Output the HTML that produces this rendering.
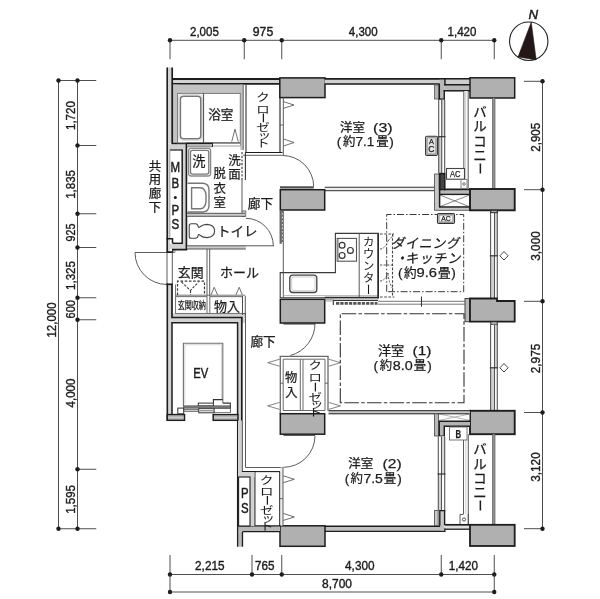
<!DOCTYPE html>
<html lang="ja"><head><meta charset="utf-8"><title>間取り図</title>
<style>
html,body{margin:0;padding:0;background:#fff;}
body{width:600px;height:599px;overflow:hidden;font-family:"Liberation Sans","Noto Sans CJK JP",sans-serif;}
svg{display:block;will-change:transform;}
svg text{font-family:"Liberation Sans","Noto Sans CJK JP",sans-serif;}
</style></head><body>
<svg width="600" height="599" viewBox="0 0 600 599">
<rect x="0" y="0" width="600" height="599" fill="#fff"/>
<g id="dims">
<line x1="170" y1="40.3" x2="494.25" y2="40.3" stroke="#3a3a3a" stroke-width="0.9"/>
<line x1="170" y1="40.3" x2="170" y2="59.2" stroke="#3a3a3a" stroke-width="0.9"/>
<circle cx="170" cy="40.3" r="2.2" fill="#1d1d1d" stroke="none" stroke-width="1"/>
<line x1="244.25" y1="40.3" x2="244.25" y2="59.2" stroke="#3a3a3a" stroke-width="0.9"/>
<circle cx="244.25" cy="40.3" r="2.2" fill="#1d1d1d" stroke="none" stroke-width="1"/>
<line x1="281.75" y1="40.3" x2="281.75" y2="59.2" stroke="#3a3a3a" stroke-width="0.9"/>
<circle cx="281.75" cy="40.3" r="2.2" fill="#1d1d1d" stroke="none" stroke-width="1"/>
<line x1="441.25" y1="40.3" x2="441.25" y2="59.2" stroke="#3a3a3a" stroke-width="0.9"/>
<circle cx="441.25" cy="40.3" r="2.2" fill="#1d1d1d" stroke="none" stroke-width="1"/>
<line x1="494.25" y1="40.3" x2="494.25" y2="59.2" stroke="#3a3a3a" stroke-width="0.9"/>
<circle cx="494.25" cy="40.3" r="2.2" fill="#1d1d1d" stroke="none" stroke-width="1"/>
<line x1="170" y1="574.5" x2="494.25" y2="574.5" stroke="#3a3a3a" stroke-width="0.9"/>
<line x1="170" y1="592" x2="494.25" y2="592" stroke="#3a3a3a" stroke-width="0.9"/>
<line x1="170" y1="555" x2="170" y2="574.5" stroke="#3a3a3a" stroke-width="0.9"/>
<circle cx="170" cy="574.5" r="2.2" fill="#1d1d1d" stroke="none" stroke-width="1"/>
<line x1="252" y1="555" x2="252" y2="574.5" stroke="#3a3a3a" stroke-width="0.9"/>
<circle cx="252" cy="574.5" r="2.2" fill="#1d1d1d" stroke="none" stroke-width="1"/>
<line x1="281.75" y1="555" x2="281.75" y2="574.5" stroke="#3a3a3a" stroke-width="0.9"/>
<circle cx="281.75" cy="574.5" r="2.2" fill="#1d1d1d" stroke="none" stroke-width="1"/>
<line x1="441.25" y1="555" x2="441.25" y2="574.5" stroke="#3a3a3a" stroke-width="0.9"/>
<circle cx="441.25" cy="574.5" r="2.2" fill="#1d1d1d" stroke="none" stroke-width="1"/>
<line x1="494.25" y1="555" x2="494.25" y2="574.5" stroke="#3a3a3a" stroke-width="0.9"/>
<circle cx="494.25" cy="574.5" r="2.2" fill="#1d1d1d" stroke="none" stroke-width="1"/>
<line x1="170" y1="574.5" x2="170" y2="592" stroke="#3a3a3a" stroke-width="0.9"/>
<line x1="494.25" y1="574.5" x2="494.25" y2="592" stroke="#3a3a3a" stroke-width="0.9"/>
<circle cx="170" cy="592" r="2.2" fill="#1d1d1d" stroke="none" stroke-width="1"/>
<circle cx="494.25" cy="592" r="2.2" fill="#1d1d1d" stroke="none" stroke-width="1"/>
<line x1="58.5" y1="80.5" x2="58.5" y2="528.75" stroke="#3a3a3a" stroke-width="0.9"/>
<line x1="77.5" y1="80.5" x2="77.5" y2="528.75" stroke="#3a3a3a" stroke-width="0.9"/>
<line x1="58.5" y1="80.5" x2="96.25" y2="80.5" stroke="#3a3a3a" stroke-width="0.9"/>
<line x1="58.5" y1="528.75" x2="96.25" y2="528.75" stroke="#3a3a3a" stroke-width="0.9"/>
<line x1="77.5" y1="145.5" x2="96.25" y2="145.5" stroke="#3a3a3a" stroke-width="0.9"/>
<line x1="77.5" y1="213.75" x2="96.25" y2="213.75" stroke="#3a3a3a" stroke-width="0.9"/>
<line x1="77.5" y1="247.5" x2="96.25" y2="247.5" stroke="#3a3a3a" stroke-width="0.9"/>
<line x1="77.5" y1="297.75" x2="96.25" y2="297.75" stroke="#3a3a3a" stroke-width="0.9"/>
<line x1="77.5" y1="319.75" x2="96.25" y2="319.75" stroke="#3a3a3a" stroke-width="0.9"/>
<line x1="77.5" y1="469.25" x2="96.25" y2="469.25" stroke="#3a3a3a" stroke-width="0.9"/>
<circle cx="77.5" cy="80.5" r="2.2" fill="#1d1d1d" stroke="none" stroke-width="1"/>
<circle cx="77.5" cy="145.5" r="2.2" fill="#1d1d1d" stroke="none" stroke-width="1"/>
<circle cx="77.5" cy="213.75" r="2.2" fill="#1d1d1d" stroke="none" stroke-width="1"/>
<circle cx="77.5" cy="247.5" r="2.2" fill="#1d1d1d" stroke="none" stroke-width="1"/>
<circle cx="77.5" cy="297.75" r="2.2" fill="#1d1d1d" stroke="none" stroke-width="1"/>
<circle cx="77.5" cy="319.75" r="2.2" fill="#1d1d1d" stroke="none" stroke-width="1"/>
<circle cx="77.5" cy="469.25" r="2.2" fill="#1d1d1d" stroke="none" stroke-width="1"/>
<circle cx="77.5" cy="528.75" r="2.2" fill="#1d1d1d" stroke="none" stroke-width="1"/>
<circle cx="58.5" cy="80.5" r="2.2" fill="#1d1d1d" stroke="none" stroke-width="1"/>
<circle cx="58.5" cy="528.75" r="2.2" fill="#1d1d1d" stroke="none" stroke-width="1"/>
<line x1="542.5" y1="81.3" x2="542.5" y2="528.7" stroke="#3a3a3a" stroke-width="0.9"/>
<line x1="524" y1="81.3" x2="542.5" y2="81.3" stroke="#3a3a3a" stroke-width="0.9"/>
<circle cx="542.5" cy="81.3" r="2.2" fill="#1d1d1d" stroke="none" stroke-width="1"/>
<line x1="524" y1="189.7" x2="542.5" y2="189.7" stroke="#3a3a3a" stroke-width="0.9"/>
<circle cx="542.5" cy="189.7" r="2.2" fill="#1d1d1d" stroke="none" stroke-width="1"/>
<line x1="524" y1="301.3" x2="542.5" y2="301.3" stroke="#3a3a3a" stroke-width="0.9"/>
<circle cx="542.5" cy="301.3" r="2.2" fill="#1d1d1d" stroke="none" stroke-width="1"/>
<line x1="524" y1="412.5" x2="542.5" y2="412.5" stroke="#3a3a3a" stroke-width="0.9"/>
<circle cx="542.5" cy="412.5" r="2.2" fill="#1d1d1d" stroke="none" stroke-width="1"/>
<line x1="524" y1="528.7" x2="542.5" y2="528.7" stroke="#3a3a3a" stroke-width="0.9"/>
<circle cx="542.5" cy="528.7" r="2.2" fill="#1d1d1d" stroke="none" stroke-width="1"/>
</g>
<g id="dimtext" stroke="#1c1c1c" stroke-width="0.38">
<text x="204.4" y="36.2" font-size="12.4" text-anchor="middle" font-weight="normal" font-style="normal" fill="#1c1c1c" textLength="28.8" lengthAdjust="spacingAndGlyphs">2,005</text>
<text x="263" y="36.2" font-size="12.4" text-anchor="middle" font-weight="normal" font-style="normal" fill="#1c1c1c" textLength="20.5" lengthAdjust="spacingAndGlyphs">975</text>
<text x="363.2" y="36.2" font-size="12.4" text-anchor="middle" font-weight="normal" font-style="normal" fill="#1c1c1c" textLength="28.8" lengthAdjust="spacingAndGlyphs">4,300</text>
<text x="462" y="36.2" font-size="12.4" text-anchor="middle" font-weight="normal" font-style="normal" fill="#1c1c1c" textLength="28.8" lengthAdjust="spacingAndGlyphs">1,420</text>
<text x="209.8" y="570" font-size="12.4" text-anchor="middle" font-weight="normal" font-style="normal" fill="#1c1c1c" textLength="29.5" lengthAdjust="spacingAndGlyphs">2,215</text>
<text x="264.7" y="570" font-size="12.4" text-anchor="middle" font-weight="normal" font-style="normal" fill="#1c1c1c" textLength="19.5" lengthAdjust="spacingAndGlyphs">765</text>
<text x="359.8" y="570" font-size="12.4" text-anchor="middle" font-weight="normal" font-style="normal" fill="#1c1c1c" textLength="29.5" lengthAdjust="spacingAndGlyphs">4,300</text>
<text x="463.4" y="570" font-size="12.4" text-anchor="middle" font-weight="normal" font-style="normal" fill="#1c1c1c" textLength="29.3" lengthAdjust="spacingAndGlyphs">1,420</text>
<text x="337" y="588.3" font-size="12.4" text-anchor="middle" font-weight="normal" font-style="normal" fill="#1c1c1c" textLength="30" lengthAdjust="spacingAndGlyphs">8,700</text>
<text x="75" y="115.6" font-size="12.4" text-anchor="middle" font-weight="normal" font-style="normal" fill="#1c1c1c" textLength="28.8" lengthAdjust="spacingAndGlyphs" transform="rotate(-90 75 115.6)">1,720</text>
<text x="75" y="184.4" font-size="12.4" text-anchor="middle" font-weight="normal" font-style="normal" fill="#1c1c1c" textLength="28.8" lengthAdjust="spacingAndGlyphs" transform="rotate(-90 75 184.4)">1,835</text>
<text x="75" y="232.5" font-size="12.4" text-anchor="middle" font-weight="normal" font-style="normal" fill="#1c1c1c" textLength="17.8" lengthAdjust="spacingAndGlyphs" transform="rotate(-90 75 232.5)">925</text>
<text x="75" y="275.5" font-size="12.4" text-anchor="middle" font-weight="normal" font-style="normal" fill="#1c1c1c" textLength="28.8" lengthAdjust="spacingAndGlyphs" transform="rotate(-90 75 275.5)">1,325</text>
<text x="75" y="309.3" font-size="12.4" text-anchor="middle" font-weight="normal" font-style="normal" fill="#1c1c1c" textLength="18.3" lengthAdjust="spacingAndGlyphs" transform="rotate(-90 75 309.3)">600</text>
<text x="75" y="393" font-size="12.4" text-anchor="middle" font-weight="normal" font-style="normal" fill="#1c1c1c" textLength="28.8" lengthAdjust="spacingAndGlyphs" transform="rotate(-90 75 393)">4,000</text>
<text x="75" y="499.4" font-size="12.4" text-anchor="middle" font-weight="normal" font-style="normal" fill="#1c1c1c" textLength="28.8" lengthAdjust="spacingAndGlyphs" transform="rotate(-90 75 499.4)">1,595</text>
<text x="55.8" y="320" font-size="12.4" text-anchor="middle" font-weight="normal" font-style="normal" fill="#1c1c1c" textLength="35" lengthAdjust="spacingAndGlyphs" transform="rotate(-90 55.8 320)">12,000</text>
<text x="540" y="137.3" font-size="12.4" text-anchor="middle" font-weight="normal" font-style="normal" fill="#1c1c1c" textLength="28.8" lengthAdjust="spacingAndGlyphs" transform="rotate(-90 540 137.3)">2,905</text>
<text x="540" y="246" font-size="12.4" text-anchor="middle" font-weight="normal" font-style="normal" fill="#1c1c1c" textLength="29.5" lengthAdjust="spacingAndGlyphs" transform="rotate(-90 540 246)">3,000</text>
<text x="540" y="358.5" font-size="12.4" text-anchor="middle" font-weight="normal" font-style="normal" fill="#1c1c1c" textLength="29.5" lengthAdjust="spacingAndGlyphs" transform="rotate(-90 540 358.5)">2,975</text>
<text x="540" y="467" font-size="12.4" text-anchor="middle" font-weight="normal" font-style="normal" fill="#1c1c1c" textLength="29.3" lengthAdjust="spacingAndGlyphs" transform="rotate(-90 540 467)">3,120</text>
</g>
<circle cx="528.75" cy="41.25" r="19.2" fill="none" stroke="#222" stroke-width="1.1"/>
<path d="M531.25 22 L518 57 L536.25 60 Z" fill="#231815" stroke="#231815" stroke-width="0.5"/>
<g stroke="#1c1c1c" stroke-width="0.45">
<text x="533.2" y="18.8" font-size="12.8" text-anchor="middle" font-weight="normal" font-style="italic" fill="#1c1c1c" textLength="9.6" lengthAdjust="spacingAndGlyphs">N</text>
</g>
<g id="walls">
<rect x="167" y="67.5" width="5.5" height="76" fill="#d2d2d2" stroke="none" stroke-width="1"/>
<rect x="167" y="143.5" width="3" height="108.5" fill="#d2d2d2" stroke="none" stroke-width="1"/>
<rect x="172" y="79" width="108" height="5" fill="#d2d2d2" stroke="none" stroke-width="1"/>
<line x1="172.2" y1="79" x2="280" y2="79" stroke="#1d1d1d" stroke-width="1.9"/>
<line x1="172.2" y1="83.8" x2="280" y2="83.8" stroke="#1d1d1d" stroke-width="1.7"/>
<rect x="172.5" y="84.7" width="70.5" height="8.6" fill="#c2c2c2" stroke="none" stroke-width="1"/>
<rect x="172.5" y="84.7" width="5.3" height="58.3" fill="#c2c2c2" stroke="none" stroke-width="1"/>
<rect x="240.3" y="84.7" width="2.9" height="65.3" fill="#c2c2c2" stroke="none" stroke-width="1"/>
<rect x="168" y="144.4" width="17.6" height="5.4" fill="#d2d2d2" stroke="none" stroke-width="1"/>
<rect x="183" y="149.6" width="2.7" height="99.3" fill="#d2d2d2" stroke="none" stroke-width="1"/>
<rect x="168" y="243.8" width="17.7" height="5.1" fill="#d2d2d2" stroke="none" stroke-width="1"/>
<rect x="170" y="150" width="12.2" height="93.3" fill="#fff" stroke="none" stroke-width="1"/>
<line x1="167.2" y1="67.5" x2="167.2" y2="252.8" stroke="#1d1d1d" stroke-width="1.6"/>
<path d="M172.2 67.5 L172.2 143.5 L186.4 143.5 L186.4 249.6 L172.8 249.6 L172.8 252.2 L166.4 252.2" fill="none" stroke="#1d1d1d" stroke-width="1.7"/>
<line x1="170" y1="150" x2="182.2" y2="150" stroke="#1d1d1d" stroke-width="1.2"/>
<line x1="182.2" y1="149.5" x2="182.2" y2="243.3" stroke="#1d1d1d" stroke-width="1.5"/>
<line x1="172.5" y1="243.3" x2="182.9" y2="243.3" stroke="#1d1d1d" stroke-width="1.5"/>
<line x1="169.9" y1="150" x2="169.9" y2="238.5" stroke="#888" stroke-width="0.7"/>
<path d="M166.4 238.7 L172.5 238.7 L172.5 243.3" fill="none" stroke="#1d1d1d" stroke-width="1.5"/>
<rect x="173" y="250.5" width="2" height="2" fill="#ddd" stroke="#555" stroke-width="0.6"/>
<rect x="279.8" y="77.9" width="45.2" height="19.7" fill="#b0b0b0" stroke="#1d1d1d" stroke-width="1.5"/>
<rect x="324.5" y="79" width="114.8" height="5.3" fill="#d0d0d0" stroke="none" stroke-width="1"/>
<line x1="324.5" y1="78.9" x2="470" y2="78.9" stroke="#1d1d1d" stroke-width="1.9"/>
<line x1="324.5" y1="83.9" x2="439.8" y2="83.9" stroke="#1d1d1d" stroke-width="1.5"/>
<rect x="434.5" y="85" width="4.5" height="14" fill="#b5b5b5" stroke="#666" stroke-width="0.9"/>
<rect x="439.3" y="79.8" width="5" height="19.5" fill="#b8b8b8" stroke="none" stroke-width="1"/>
<rect x="444.3" y="85.5" width="25.7" height="5.3" fill="#b8b8b8" stroke="none" stroke-width="1"/>
<rect x="444.8" y="79.8" width="25.2" height="5" fill="#cdcdcd" stroke="none" stroke-width="1"/>
<line x1="439.3" y1="83.6" x2="439.3" y2="99.9" stroke="#1d1d1d" stroke-width="1.5"/>
<line x1="438.6" y1="99.2" x2="445" y2="99.2" stroke="#1d1d1d" stroke-width="1.5"/>
<line x1="444.3" y1="90.1" x2="444.3" y2="99.9" stroke="#1d1d1d" stroke-width="1.4"/>
<line x1="443.7" y1="90.8" x2="470" y2="90.8" stroke="#1d1d1d" stroke-width="1.5"/>
<line x1="444.9" y1="79" x2="444.9" y2="85.5" stroke="#1d1d1d" stroke-width="1.5"/>
<line x1="444.2" y1="84.8" x2="470" y2="84.8" stroke="#1d1d1d" stroke-width="1.6"/>
<rect x="470" y="77.8" width="44.7" height="20.2" fill="#b0b0b0" stroke="#1d1d1d" stroke-width="1.5"/>
<rect x="438.7" y="99.8" width="6" height="73.2" fill="#fff" stroke="none" stroke-width="1"/>
<rect x="441.7" y="99.8" width="3" height="36.9" fill="#dadada" stroke="none" stroke-width="1"/>
<rect x="438.7" y="136.7" width="3" height="36.3" fill="#d4d4d4" stroke="none" stroke-width="1"/>
<line x1="438.7" y1="99.8" x2="438.7" y2="173" stroke="#555" stroke-width="1.1"/>
<line x1="441.7" y1="99.8" x2="441.7" y2="173" stroke="#555" stroke-width="1.1"/>
<line x1="444.7" y1="99.8" x2="444.7" y2="173" stroke="#555" stroke-width="1.1"/>
<line x1="437.9" y1="136.7" x2="445.5" y2="136.7" stroke="#333" stroke-width="1.2"/>
<rect x="463.8" y="91" width="4.2" height="97" fill="#fafafa" stroke="none" stroke-width="1"/>
<line x1="463.8" y1="91" x2="463.8" y2="168.3" stroke="#4a4a4a" stroke-width="0.9"/>
<line x1="465.6" y1="91" x2="465.6" y2="188" stroke="#bbb" stroke-width="0.6"/>
<line x1="468.2" y1="91" x2="468.2" y2="188" stroke="#4a4a4a" stroke-width="0.9"/>
<rect x="492.6" y="98" width="2.3" height="90.5" fill="#9a9a9a" stroke="none" stroke-width="1"/>
<line x1="492.6" y1="98" x2="492.6" y2="188.5" stroke="#555" stroke-width="0.8"/>
<line x1="494.9" y1="98" x2="494.9" y2="188.5" stroke="#555" stroke-width="0.8"/>
<rect x="324.7" y="187.4" width="109.8" height="3.2" fill="#ededed" stroke="none" stroke-width="1"/>
<line x1="324.7" y1="187.3" x2="434.5" y2="187.3" stroke="#333" stroke-width="1.1"/>
<line x1="324.7" y1="190.6" x2="434.5" y2="190.6" stroke="#555" stroke-width="1.1"/>
<rect x="280.3" y="189.7" width="44.4" height="20.3" fill="#b0b0b0" stroke="#1d1d1d" stroke-width="1.5"/>
<line x1="280" y1="187.3" x2="313.7" y2="187.3" stroke="#505050" stroke-width="2.3"/>
<path d="M282.5 155.5 A31.2 31.2 0 0 1 313.7 186.7" fill="none" stroke="#4a4a4a" stroke-width="0.9"/>
<path d="M434.5 174 L440 174 L440 207 L469.5 207 L469.5 210.3 L434.5 210.3 Z" fill="#c6c6c6" stroke="#555" stroke-width="0.9"/>
<rect x="439.8" y="190.3" width="29.7" height="3.7" fill="#b8b8b8" stroke="none" stroke-width="1"/>
<rect x="439.8" y="195" width="29.7" height="11.7" fill="#fff" stroke="none" stroke-width="1"/>
<line x1="439.8" y1="195" x2="469.5" y2="206.7" stroke="#666" stroke-width="0.8"/>
<line x1="439.8" y1="206.7" x2="469.5" y2="195" stroke="#666" stroke-width="0.8"/>
<rect x="439.6" y="173.6" width="5.2" height="16" fill="#444" stroke="#1d1d1d" stroke-width="1.5"/>
<line x1="439.6" y1="173" x2="439.6" y2="207.4" stroke="#1d1d1d" stroke-width="1.5"/>
<line x1="444" y1="189.4" x2="470" y2="189.4" stroke="#1d1d1d" stroke-width="1.8"/>
<line x1="439.6" y1="194.4" x2="469.5" y2="194.4" stroke="#1d1d1d" stroke-width="1.4"/>
<line x1="439" y1="206.9" x2="469.5" y2="206.9" stroke="#1d1d1d" stroke-width="1.3"/>
<rect x="470" y="189" width="44.7" height="21.3" fill="#b0b0b0" stroke="#1d1d1d" stroke-width="1.9"/>
<rect x="490.6" y="210.3" width="6.7" height="88.2" fill="#fff" stroke="none" stroke-width="1"/>
<rect x="494.5" y="210.3" width="2.8" height="45.5" fill="#dadada" stroke="none" stroke-width="1"/>
<rect x="490.6" y="255.8" width="3.9" height="42.7" fill="#d4d4d4" stroke="none" stroke-width="1"/>
<line x1="490.6" y1="210.3" x2="490.6" y2="298.5" stroke="#555" stroke-width="1.1"/>
<line x1="494.5" y1="210.3" x2="494.5" y2="298.5" stroke="#555" stroke-width="1.1"/>
<line x1="497.3" y1="210.3" x2="497.3" y2="298.5" stroke="#555" stroke-width="1.1"/>
<line x1="489.8" y1="255.8" x2="498.1" y2="255.8" stroke="#333" stroke-width="1.2"/>
<rect x="490.8" y="210.3" width="6.4" height="2.4" fill="#b0b0b0" stroke="#1d1d1d" stroke-width="0.9"/>
<path d="M504 251.6 L508.2 255.8 L504 260 L499.8 255.8 Z" fill="#fff" stroke="#444" stroke-width="1"/>
<rect x="465" y="298.5" width="5" height="23.2" fill="#b8b8b8" stroke="#444" stroke-width="1"/>
<path d="M470 298.5 L497 298.5 L497 301 L514.7 301 L514.7 321.7 L470 321.7 Z" fill="#b0b0b0" stroke="#1d1d1d" stroke-width="1.8"/>
<rect x="490.8" y="321.7" width="6.4" height="3.3" fill="#b0b0b0" stroke="#1d1d1d" stroke-width="0.9"/>
<rect x="490.6" y="325" width="6.7" height="85.8" fill="#fff" stroke="none" stroke-width="1"/>
<rect x="494.5" y="325" width="2.8" height="42.8" fill="#dadada" stroke="none" stroke-width="1"/>
<rect x="490.6" y="367.8" width="3.9" height="43" fill="#d4d4d4" stroke="none" stroke-width="1"/>
<line x1="490.6" y1="325" x2="490.6" y2="410.8" stroke="#555" stroke-width="1.1"/>
<line x1="494.5" y1="325" x2="494.5" y2="410.8" stroke="#555" stroke-width="1.1"/>
<line x1="497.3" y1="325" x2="497.3" y2="410.8" stroke="#555" stroke-width="1.1"/>
<line x1="489.8" y1="367.8" x2="498.1" y2="367.8" stroke="#333" stroke-width="1.2"/>
<path d="M504 363.6 L508.2 367.8 L504 372 L499.8 367.8 Z" fill="#fff" stroke="#444" stroke-width="1"/>
<rect x="470" y="410.8" width="44.7" height="23.4" fill="#b0b0b0" stroke="#1d1d1d" stroke-width="1.9"/>
<rect x="328.5" y="410.8" width="141.5" height="2.9" fill="#c8c8c8" stroke="none" stroke-width="1"/>
<line x1="328.5" y1="410.7" x2="470" y2="410.7" stroke="#1d1d1d" stroke-width="1"/>
<line x1="328.5" y1="413.8" x2="438.3" y2="413.8" stroke="#1d1d1d" stroke-width="1"/>
<rect x="434.5" y="413.8" width="4.1" height="22.2" fill="#b8b8b8" stroke="#555" stroke-width="0.9"/>
<rect x="439.4" y="414" width="30.1" height="6.3" fill="#fff" stroke="none" stroke-width="1"/>
<line x1="439.4" y1="414" x2="469.5" y2="420.3" stroke="#999" stroke-width="0.7"/>
<line x1="439.4" y1="420.3" x2="469.5" y2="414" stroke="#999" stroke-width="0.7"/>
<line x1="438.3" y1="413.8" x2="469.5" y2="413.8" stroke="#1d1d1d" stroke-width="1"/>
<path d="M441.75 436.8 L441.75 423.75 L470 423.75" fill="none" stroke="#1d1d1d" stroke-width="6.5"/>
<path d="M441.75 435.5 L441.75 423.75 L470 423.75" fill="none" stroke="#b4b4b4" stroke-width="3.6"/>
<rect x="438.3" y="436.5" width="6.4" height="74.3" fill="#fff" stroke="none" stroke-width="1"/>
<rect x="441.5" y="436.5" width="3.2" height="37.5" fill="#dadada" stroke="none" stroke-width="1"/>
<rect x="438.3" y="474" width="3.2" height="36.8" fill="#d4d4d4" stroke="none" stroke-width="1"/>
<line x1="438.3" y1="436.5" x2="438.3" y2="510.8" stroke="#555" stroke-width="1.1"/>
<line x1="441.5" y1="436.5" x2="441.5" y2="510.8" stroke="#555" stroke-width="1.1"/>
<line x1="444.7" y1="436.5" x2="444.7" y2="510.8" stroke="#555" stroke-width="1.1"/>
<line x1="437.5" y1="474" x2="445.5" y2="474" stroke="#333" stroke-width="1.2"/>
<rect x="463.7" y="440" width="4.6" height="82" fill="#fafafa" stroke="none" stroke-width="1"/>
<line x1="463.5" y1="440" x2="463.5" y2="514" stroke="#4a4a4a" stroke-width="0.9"/>
<line x1="465.8" y1="440" x2="465.8" y2="514" stroke="#bbb" stroke-width="0.6"/>
<line x1="468.3" y1="434.2" x2="468.3" y2="525" stroke="#4a4a4a" stroke-width="0.9"/>
<rect x="492.6" y="434.2" width="2.3" height="90.3" fill="#9a9a9a" stroke="none" stroke-width="1"/>
<line x1="492.6" y1="434.2" x2="492.6" y2="524.5" stroke="#555" stroke-width="0.8"/>
<line x1="494.9" y1="434.2" x2="494.9" y2="524.5" stroke="#555" stroke-width="0.8"/>
<path d="M463.5 514.5 L460 514.5 L460 524 M468.3 514 L468.3 524" fill="none" stroke="#4a4a4a" stroke-width="0.9"/>
<circle cx="464" cy="519.5" r="1.6" fill="#fff" stroke="#444" stroke-width="0.9"/>
<rect x="449.5" y="427" width="17.5" height="13" fill="#fff" stroke="#666" stroke-width="0.9"/>
<rect x="324.7" y="526.2" width="120" height="5.2" fill="#c0c0c0" stroke="none" stroke-width="1"/>
<line x1="324.7" y1="526.2" x2="440" y2="526.2" stroke="#1d1d1d" stroke-width="1.4"/>
<line x1="324.7" y1="531.4" x2="445.3" y2="531.4" stroke="#1d1d1d" stroke-width="1.3"/>
<rect x="444.7" y="525" width="25.3" height="4.2" fill="#dedede" stroke="none" stroke-width="1"/>
<line x1="444.5" y1="524.8" x2="470" y2="524.8" stroke="#1d1d1d" stroke-width="1.7"/>
<line x1="444.7" y1="529.2" x2="470" y2="529.2" stroke="#1d1d1d" stroke-width="1.3"/>
<rect x="434.5" y="510.5" width="3.7" height="15" fill="#c8c8c8" stroke="#555" stroke-width="0.9"/>
<path d="M439.8 526.5 L439.8 510.6 L444.6 510.6 L444.6 525" fill="#c8c8c8" stroke="#1d1d1d" stroke-width="1.4"/>
<rect x="440.5" y="525" width="3.5" height="5.6" fill="#c0c0c0" stroke="none" stroke-width="1"/>
<line x1="444.8" y1="528.6" x2="444.8" y2="532" stroke="#1d1d1d" stroke-width="1.2"/>
<rect x="470" y="524.8" width="44.7" height="21.2" fill="#b0b0b0" stroke="#1d1d1d" stroke-width="1.8"/>
<rect x="280" y="525.8" width="45" height="20.5" fill="#b0b0b0" stroke="#1d1d1d" stroke-width="1.5"/>
<rect x="237.5" y="525.8" width="42.5" height="5.9" fill="#b8b8b8" stroke="none" stroke-width="1"/>
<line x1="237.5" y1="525.8" x2="280" y2="525.8" stroke="#1d1d1d" stroke-width="1.3"/>
<line x1="242.5" y1="531.7" x2="280" y2="531.7" stroke="#1d1d1d" stroke-width="1.3"/>
<rect x="237.5" y="531.7" width="5" height="15" fill="#b8b8b8" stroke="none" stroke-width="1"/>
<line x1="242.5" y1="531.7" x2="242.5" y2="546.7" stroke="#1d1d1d" stroke-width="1.3"/>
</g>
<g id="west">
<line x1="167" y1="252.5" x2="167" y2="284" stroke="#4a4a4a" stroke-width="0.9"/>
<line x1="172.3" y1="252.5" x2="172.3" y2="284" stroke="#4a4a4a" stroke-width="0.9"/>
<line x1="135" y1="252.5" x2="167" y2="252.5" stroke="#4a4a4a" stroke-width="0.9"/>
<path d="M135 252.5 A32 32 0 0 0 167 284.5" fill="none" stroke="#4a4a4a" stroke-width="0.9"/>
<rect x="167" y="284" width="5" height="136.8" fill="#d2d2d2" stroke="none" stroke-width="1"/>
<rect x="172" y="313.5" width="73.5" height="9.3" fill="#d2d2d2" stroke="none" stroke-width="1"/>
<rect x="237.6" y="322.8" width="4.2" height="148.2" fill="#d2d2d2" stroke="none" stroke-width="1"/>
<line x1="167.3" y1="283.5" x2="167.3" y2="420.8" stroke="#1d1d1d" stroke-width="1.6"/>
<line x1="166.4" y1="284.3" x2="172.8" y2="284.3" stroke="#1d1d1d" stroke-width="1.7"/>
<line x1="175.5" y1="284.5" x2="175.5" y2="313.5" stroke="#666" stroke-width="0.9"/>
<line x1="175" y1="313.5" x2="245.5" y2="313.5" stroke="#555" stroke-width="0.9"/>
<path d="M172 284 L172 317.5 L241.8 317.5 L241.8 471.8 L254.6 471.8 L254.6 526" fill="none" stroke="#1d1d1d" stroke-width="1.7"/>
<path d="M172 414.6 L172 322.8 L237.6 322.8 L237.6 414.6" fill="none" stroke="#1d1d1d" stroke-width="1.5"/>
<rect x="167.3" y="414.6" width="17.2" height="5.7" fill="#d2d2d2" stroke="#1d1d1d" stroke-width="1.5"/>
<rect x="213.2" y="414.6" width="24.8" height="5.7" fill="#d2d2d2" stroke="#1d1d1d" stroke-width="1.5"/>
<line x1="168" y1="416.4" x2="183.8" y2="416.4" stroke="#999" stroke-width="0.6"/>
<line x1="214" y1="416.4" x2="237" y2="416.4" stroke="#999" stroke-width="0.6"/>
<line x1="168" y1="418.4" x2="183.8" y2="418.4" stroke="#999" stroke-width="0.6"/>
<line x1="214" y1="418.4" x2="237" y2="418.4" stroke="#999" stroke-width="0.6"/>
<line x1="237.6" y1="420.5" x2="237.6" y2="546.7" stroke="#1d1d1d" stroke-width="1.3"/>
<line x1="245.5" y1="313.5" x2="245.5" y2="467.5" stroke="#4a4a4a" stroke-width="0.9"/>
<path d="M183.4 406 L183.4 343.3 L222.8 343.3 L222.8 403.1" fill="#fff" stroke="#707070" stroke-width="1.1"/>
<path d="M184.8 404 L184.8 344.7 L221.4 344.7 L221.4 400" fill="none" stroke="#c4c4c4" stroke-width="0.7"/>
<path d="M213.4 403.1 L213.4 399.6 L222.8 399.6 M222.8 403.1 L230.3 403.1 L230.3 412.6" fill="none" stroke="#333" stroke-width="1.1"/>
<rect x="198.3" y="403.1" width="15.1" height="2.9" fill="#fff" stroke="#333" stroke-width="1"/>
<rect x="214" y="408.3" width="16.3" height="4.3" fill="#fff" stroke="#666" stroke-width="0.8"/>
<rect x="183.7" y="409.5" width="14.6" height="1.9" fill="#c8c8c8" stroke="#666" stroke-width="0.8"/>
<rect x="198.8" y="408.3" width="15.2" height="4.5" fill="#fff" stroke="#333" stroke-width="1"/>
<rect x="199.6" y="409.7" width="13.6" height="1.7" fill="#999" stroke="none" stroke-width="1"/>
<rect x="183.7" y="405.9" width="46.6" height="2.2" fill="#8a8a8a" stroke="#444" stroke-width="0.8"/>
<rect x="177.8" y="408.1" width="5.9" height="5.7" fill="#fff" stroke="#333" stroke-width="1"/>
<path d="M245.5 467.5 L283 467.5" fill="none" stroke="#4a4a4a" stroke-width="0.9"/>
<rect x="238" y="420.5" width="3.9" height="56.5" fill="#d2d2d2" stroke="none" stroke-width="1"/>
<rect x="238" y="472" width="16.5" height="5" fill="#d2d2d2" stroke="none" stroke-width="1"/>
<rect x="250" y="472" width="4.5" height="54" fill="#d2d2d2" stroke="none" stroke-width="1"/>
<rect x="238.6" y="477" width="11.4" height="49" fill="#fff" stroke="#1d1d1d" stroke-width="1.1"/>
<line x1="254.6" y1="471.6" x2="280" y2="471.6" stroke="#1d1d1d" stroke-width="1.1"/>
<line x1="279.8" y1="471.6" x2="279.8" y2="526" stroke="#1d1d1d" stroke-width="1.2"/>
<rect x="280.4" y="467.5" width="2.6" height="58.1" fill="#ececec" stroke="none" stroke-width="1"/>
<line x1="283" y1="467.5" x2="283" y2="525.8" stroke="#4a4a4a" stroke-width="0.9"/>
<line x1="280" y1="498.7" x2="283" y2="498.7" stroke="#4a4a4a" stroke-width="0.8"/>
<path d="M283.3 475.8 L294.3 479.3 L283.3 482.7" fill="none" stroke="#4a4a4a" stroke-width="0.8"/>
<path d="M283.3 513.4 L294.3 517 L283.3 520.4" fill="none" stroke="#4a4a4a" stroke-width="0.8"/>
</g>
<g id="mid">
<rect x="280.3" y="299.3" width="44.4" height="23.7" fill="#b0b0b0" stroke="#1d1d1d" stroke-width="1.5"/>
<path d="M315 323.3 A33.3 33.3 0 0 1 290.3 355.5" fill="none" stroke="#4a4a4a" stroke-width="0.9"/>
<line x1="283.5" y1="323.9" x2="315" y2="323.9" stroke="#333" stroke-width="1.2"/>
<rect x="280.3" y="356.2" width="47.7" height="54.6" fill="#fff" stroke="none" stroke-width="1"/>
<line x1="279.7" y1="356.3" x2="328.6" y2="356.3" stroke="#6a6a6a" stroke-width="1.3"/>
<line x1="283.2" y1="359.2" x2="325" y2="359.2" stroke="#6a6a6a" stroke-width="1"/>
<line x1="280.3" y1="356.3" x2="280.3" y2="413.7" stroke="#6a6a6a" stroke-width="1.3"/>
<line x1="283.2" y1="359.2" x2="283.2" y2="410.5" stroke="#6a6a6a" stroke-width="1"/>
<line x1="300.3" y1="359.2" x2="300.3" y2="410.5" stroke="#6a6a6a" stroke-width="1"/>
<line x1="303" y1="359.2" x2="303" y2="410.5" stroke="#6a6a6a" stroke-width="1"/>
<line x1="325" y1="359.2" x2="325" y2="410.5" stroke="#6a6a6a" stroke-width="1"/>
<line x1="328" y1="356.3" x2="328" y2="410.8" stroke="#6a6a6a" stroke-width="1.3"/>
<line x1="283.2" y1="410.5" x2="325" y2="410.5" stroke="#6a6a6a" stroke-width="1"/>
<line x1="280.3" y1="383.2" x2="283.2" y2="383.2" stroke="#4a4a4a" stroke-width="0.8"/>
<line x1="325" y1="383.2" x2="328" y2="383.2" stroke="#4a4a4a" stroke-width="0.8"/>
<path d="M279.7 359.2 L267.7 362.7 L279.7 366.2" fill="none" stroke="#666" stroke-width="0.8"/>
<path d="M328.6 359.2 L340.6 362.7 L328.6 366.2" fill="none" stroke="#666" stroke-width="0.8"/>
<path d="M279.7 402.4 L267.7 405.9 L279.7 409.4" fill="none" stroke="#666" stroke-width="0.8"/>
<path d="M328.6 402.4 L340.6 405.9 L328.6 409.4" fill="none" stroke="#666" stroke-width="0.8"/>
<rect x="280.3" y="413.7" width="44.4" height="20.5" fill="#b0b0b0" stroke="#1d1d1d" stroke-width="1.5"/>
<line x1="283.5" y1="435.2" x2="315" y2="435.2" stroke="#333" stroke-width="1.2"/>
<path d="M315 435.8 A31.5 31.5 0 0 1 283.5 467.3" fill="none" stroke="#4a4a4a" stroke-width="0.9"/>
</g>
<g id="interior">
<rect x="177.6" y="93.4" width="62.7" height="49.4" fill="#fff" stroke="#777" stroke-width="1"/>
<rect x="178.8" y="94.4" width="23.4" height="46.2" fill="none" stroke="#d0d0d0" stroke-width="0.8" rx="3.5"/>
<rect x="180.4" y="96.3" width="20.4" height="42.5" fill="#fff" stroke="#777" stroke-width="1.5" rx="3"/>
<line x1="203.5" y1="93.3" x2="203.5" y2="142.8" stroke="#5a5a5a" stroke-width="1.2"/>
<line x1="186" y1="143.5" x2="212.5" y2="143.5" stroke="#1d1d1d" stroke-width="1.7"/>
<line x1="212.5" y1="142.8" x2="240.3" y2="142.8" stroke="#666" stroke-width="0.9"/>
<rect x="212.5" y="143.6" width="27.8" height="2.4" fill="#fff" stroke="#777" stroke-width="0.7"/>
<path d="M231.7 141.7 L235 129.2 L238.3 141.7" fill="none" stroke="#4a4a4a" stroke-width="0.8"/>
<rect x="187.3" y="144.4" width="25.2" height="2.2" fill="#b5b5b5" stroke="none" stroke-width="1"/>
<line x1="187" y1="146.8" x2="212.5" y2="146.8" stroke="#666" stroke-width="0.8"/>
<line x1="212.5" y1="142.5" x2="212.5" y2="147" stroke="#333" stroke-width="1"/>
<line x1="243.2" y1="84.7" x2="243.2" y2="150" stroke="#555" stroke-width="0.9"/>
<line x1="246" y1="84.7" x2="246" y2="152.5" stroke="#1d1d1d" stroke-width="1"/>
<line x1="246" y1="152.5" x2="282.5" y2="152.5" stroke="#1d1d1d" stroke-width="1"/>
<line x1="243.2" y1="155.3" x2="282.5" y2="155.3" stroke="#4a4a4a" stroke-width="0.9"/>
<line x1="280" y1="97" x2="280" y2="152.5" stroke="#1d1d1d" stroke-width="1.1"/>
<line x1="283.3" y1="97" x2="283.3" y2="155.3" stroke="#4a4a4a" stroke-width="0.9"/>
<line x1="280" y1="125" x2="283.3" y2="125" stroke="#4a4a4a" stroke-width="0.8"/>
<path d="M283.5 101.7 L294 105 L283.5 108.3" fill="none" stroke="#4a4a4a" stroke-width="0.8"/>
<path d="M283.5 139 L294 142.5 L283.5 146" fill="none" stroke="#4a4a4a" stroke-width="0.8"/>
<rect x="188.6" y="148.4" width="22" height="27.6" fill="#fff" stroke="#8a8a8a" stroke-width="1.3" rx="2.5"/>
<rect x="190.5" y="150.4" width="18.3" height="23.7" fill="#fff" stroke="#777" stroke-width="1.3" rx="2"/>
<path d="M187.6 183.2 L203 183.2 Q209 183.6 209 190 L209 205.5 Q209 211.6 203 212 L187.6 212" fill="#fff" stroke="#777" stroke-width="1.4"/>
<path d="M191.6 187.8 L201 187.8 Q205.3 188.6 206 195 L206 201.6 Q205.3 208 201 208.8 L191.6 208.8 Z" fill="#fff" stroke="#777" stroke-width="1.4"/>
<line x1="242" y1="152" x2="242" y2="180" stroke="#444" stroke-width="1.2" stroke-dasharray="2.2 1.5"/>
<line x1="245.4" y1="152" x2="245.4" y2="180" stroke="#333" stroke-width="1.1"/>
<line x1="242" y1="180" x2="242" y2="211.7" stroke="#4a4a4a" stroke-width="0.9"/>
<rect x="242" y="211" width="3.8" height="5.3" fill="#ddd" stroke="#555" stroke-width="0.8"/>
<rect x="187" y="213.3" width="58" height="3" fill="#ccc" stroke="none" stroke-width="1"/>
<line x1="187" y1="213.3" x2="245" y2="213.3" stroke="#444" stroke-width="0.9"/>
<line x1="187" y1="216.3" x2="245" y2="216.3" stroke="#444" stroke-width="0.9"/>
<rect x="187" y="245.8" width="58.8" height="3.2" fill="#ccc" stroke="none" stroke-width="1"/>
<line x1="187" y1="245.8" x2="274" y2="245.8" stroke="#444" stroke-width="0.9"/>
<line x1="187" y1="249" x2="245.8" y2="249" stroke="#444" stroke-width="0.9"/>
<path d="M245.8 218.3 A27.5 27.5 0 0 1 273.3 245.8" fill="none" stroke="#4a4a4a" stroke-width="0.9"/>
<path d="M191.2 223.8 L195.6 223.8 Q197.8 224 198.2 226.6 Q198.6 228 200 226.8 Q203 224.4 207 224.4 Q214.6 225 214.6 231 Q214.6 237 207 237.6 Q203 237.6 200 235.2 Q198.6 234 198.2 235.4 Q197.8 238 195.6 238.3 L191.2 238.3 Q189.2 238.3 189.2 236 L189.2 226 Q189.2 223.8 191.2 223.8 Z" fill="#fff" stroke="#444" stroke-width="1.1"/>
<line x1="207" y1="249" x2="207" y2="296" stroke="#4a4a4a" stroke-width="0.9"/>
<line x1="209.7" y1="249" x2="209.7" y2="296" stroke="#4a4a4a" stroke-width="0.9"/>
<line x1="175.5" y1="295.2" x2="245.3" y2="295.2" stroke="#666" stroke-width="0.9"/>
<path d="M177.5 295 L177.5 281.2 L204.5 281.2 L204.5 295" fill="none" stroke="#3a3a3a" stroke-width="1.2" stroke-dasharray="2.6 1.6"/>
<path d="M181.5 282 L190.5 290.5 L198.5 282 M190.5 290.5 L190.5 295" fill="none" stroke="#3a3a3a" stroke-width="1.1" stroke-dasharray="2.4 1.5"/>
<rect x="175.5" y="296.6" width="31.5" height="16.9" fill="#fff" stroke="#777" stroke-width="1.1"/>
<rect x="209.8" y="296.6" width="32.7" height="16.9" fill="#fff" stroke="#777" stroke-width="1.1"/>
<line x1="242.5" y1="296" x2="242.5" y2="315" stroke="#4a4a4a" stroke-width="0.9"/>
<line x1="245.3" y1="296" x2="245.3" y2="315" stroke="#4a4a4a" stroke-width="0.9"/>
<path d="M211 294.8 L214.2 287.3 L217.5 294.8" fill="none" stroke="#4a4a4a" stroke-width="0.8"/>
<path d="M236 294.8 L239.2 287.3 L242.3 294.8" fill="none" stroke="#4a4a4a" stroke-width="0.8"/>
<line x1="283.3" y1="211" x2="283.3" y2="272.5" stroke="#4a4a4a" stroke-width="0.9"/>
<line x1="280.7" y1="211" x2="280.7" y2="243.7" stroke="#666" stroke-width="2.3"/>
<line x1="282.3" y1="211" x2="282.3" y2="243.7" stroke="#666" stroke-width="1.3" stroke-dasharray="2.2 1.4"/>
<path d="M280.2 298 L280.2 272.6 L335.4 272.6 L335.4 233.4 L378.2 233.4 L378.2 297.7 L280.2 297.7" fill="#fff" stroke="#3a3a3a" stroke-width="1.1"/>
<line x1="324.7" y1="297.5" x2="379" y2="297.5" stroke="#2a2a2a" stroke-width="1.6"/>
<line x1="283.3" y1="272.5" x2="283.3" y2="297.7" stroke="#4a4a4a" stroke-width="0.9"/>
<line x1="283" y1="295.6" x2="378" y2="295.6" stroke="#999" stroke-width="0.7"/>
<line x1="359.2" y1="233.3" x2="359.2" y2="297.7" stroke="#444" stroke-width="0.9"/>
<rect x="289.8" y="275.2" width="27" height="17.3" fill="#fff" stroke="#444" stroke-width="1.3" rx="3"/>
<rect x="291.6" y="277" width="23.4" height="13.7" fill="none" stroke="#c4c4c4" stroke-width="0.8" rx="2"/>
<rect x="337.2" y="238.4" width="19.3" height="22.8" fill="#fff" stroke="#555" stroke-width="1.1"/>
<line x1="337.8" y1="239" x2="337.8" y2="261" stroke="#888" stroke-width="1.6"/>
<circle cx="342.1" cy="245.3" r="2.9" fill="#fff" stroke="#333" stroke-width="1.2"/>
<circle cx="350.4" cy="250.4" r="2.9" fill="#fff" stroke="#333" stroke-width="1.2"/>
<circle cx="342.1" cy="255.4" r="2.9" fill="#fff" stroke="#333" stroke-width="1.2"/>
<line x1="378.2" y1="233.3" x2="378.2" y2="298.2" stroke="#2a2a2a" stroke-width="1.6"/>
<path d="M380 234 L394 234 M380 297 L394.4 297 M392.5 234 L392.5 297" fill="none" stroke="#444" stroke-width="1.1" stroke-dasharray="2.6 1.6"/>
<path d="M380 249 Q385 249 388 241 M380 265 L392 265 M380 281 Q385 281 388 273 M388 241 Q391 237 394 236 M388 273 Q389 285 394 290" fill="none" stroke="#555" stroke-width="1" stroke-dasharray="2.2 1.4"/>
<line x1="333.3" y1="300.3" x2="378" y2="300.3" stroke="#333" stroke-width="1.2"/>
<line x1="333.3" y1="299.7" x2="333.3" y2="305" stroke="#333" stroke-width="1.1"/>
<line x1="336" y1="303.4" x2="377.5" y2="303.4" stroke="#555" stroke-width="2.6" stroke-dasharray="3.3 1"/>
<line x1="378" y1="301.3" x2="465" y2="301.3" stroke="#555" stroke-width="0.8"/>
<line x1="378" y1="304.2" x2="465" y2="304.2" stroke="#555" stroke-width="0.8"/>
<line x1="421.5" y1="296.5" x2="421.5" y2="306.7" stroke="#333" stroke-width="1"/>
<line x1="324.7" y1="299.6" x2="333.3" y2="299.6" stroke="#777" stroke-width="0.7"/>
<line x1="324.7" y1="301" x2="333.3" y2="301" stroke="#777" stroke-width="0.7"/>
<path d="M386.7 291.7 L386.7 214.5 L463.7 214.5 L463.7 291.7 Z" fill="none" stroke="#3a3a3a" stroke-width="1" stroke-dasharray="7 2 1.5 2"/>
<path d="M340.3 402.7 L340.3 313.7 L464 313.7 L464 402.7 Z" fill="none" stroke="#333" stroke-width="1.1" stroke-dasharray="14.5 2.3 3.5 2.3"/>
<rect x="425.6" y="136.3" width="11.8" height="19.1" fill="#e4e4e4" stroke="#333" stroke-width="1.1" rx="1.2"/>
<rect x="427.1" y="137.7" width="8.8" height="16.3" fill="none" stroke="#666" stroke-width="0.7" rx="1"/>
<rect x="446.5" y="168.5" width="18" height="10.7" fill="#fff" stroke="#444" stroke-width="1.1"/>
<rect x="461" y="179.6" width="6" height="8.7" fill="#fff" stroke="#666" stroke-width="0.8"/>
<circle cx="464" cy="184" r="1.3" fill="#fff" stroke="#555" stroke-width="0.8"/>
<rect x="437.5" y="213.6" width="17" height="9.8" fill="#e4e4e4" stroke="#333" stroke-width="1.1" rx="1.2"/>
<rect x="439" y="215" width="14" height="7" fill="#f4f4f4" stroke="#555" stroke-width="0.7" rx="0.8"/>
</g>
<g id="labels" stroke="#1c1c1c" stroke-width="0.25">
<text x="220.8" y="119.4" font-size="12.6" text-anchor="middle" fill="#1c1c1c">浴室</text>
<text x="198.75" y="166.2" font-size="13.2" text-anchor="middle" fill="#1c1c1c">洗</text>
<g font-size="12.5" text-anchor="middle" fill="#1c1c1c">
<text x="234.6" y="165.3">洗</text>
<text x="234.5" y="179.4">面</text>
</g>
<g font-size="12.4" text-anchor="middle" fill="#1c1c1c">
<text x="219.8" y="178.4">脱</text>
<text x="219.8" y="193.2">衣</text>
<text x="219.8" y="206.5">室</text>
</g>
<text x="260.4" y="208" font-size="12.6" text-anchor="middle" fill="#1c1c1c">廊下</text>
<text x="237.3" y="235.6" font-size="13.5" text-anchor="middle" fill="#1c1c1c">トイレ</text>
<g font-size="12.4" text-anchor="middle" fill="#1c1c1c">
<text x="155" y="170.8">共</text>
<text x="155" y="184.4">用</text>
<text x="155" y="198">廊</text>
<text x="155" y="211.6">下</text>
</g>
<text x="190.75" y="277" font-size="12.9" text-anchor="middle" fill="#1c1c1c">玄関</text>
<text x="239.5" y="276.6" font-size="13" text-anchor="middle" fill="#1c1c1c">ホール</text>
<text x="177.7" y="308.8" font-size="10.2" fill="#1c1c1c" textLength="28.2" lengthAdjust="spacingAndGlyphs">玄関収納</text>
<text x="227" y="310.5" font-size="13" text-anchor="middle" fill="#1c1c1c">物入</text>
<text x="263" y="345.5" font-size="12.6" text-anchor="middle" fill="#1c1c1c">廊下</text>
<g font-size="12.3" text-anchor="middle" fill="#1c1c1c">
<text x="291.2" y="382.3">物</text>
<text x="291.3" y="397.4">入</text>
</g>
<g stroke="#1c1c1c" stroke-width="0.05">
<g font-size="13.4" text-anchor="middle" fill="#1c1c1c">
<text transform="translate(262.9 101.2) scale(1 0.78)">ク</text>
<text transform="translate(262.9 112.5) scale(1 0.78)">ロ</text>
<text transform="translate(262.8 117.9) rotate(90) scale(0.8 1)" y="5">ー</text>
<text transform="translate(262.9 131.4) scale(1 0.78)">ゼ</text>
<text transform="translate(264.5 139.4) scale(1 0.78)">ッ</text>
<text transform="translate(262.9 146.9) scale(1 0.78)">ト</text>
</g>
</g>
<g stroke="#1c1c1c" stroke-width="0.05">
<g font-size="13.4" text-anchor="middle" fill="#1c1c1c">
<text transform="translate(315.2 369.2) scale(1 0.78)">ク</text>
<text transform="translate(315.2 380.9) scale(1 0.78)">ロ</text>
<text transform="translate(315.1 387.2) rotate(90) scale(0.8 1)" y="5">ー</text>
<text transform="translate(315.2 400.8) scale(1 0.78)">ゼ</text>
<text transform="translate(316.8 408.4) scale(1 0.78)">ッ</text>
<text transform="translate(315.2 415.6) scale(1 0.78)">ト</text>
</g>
</g>
<g stroke="#1c1c1c" stroke-width="0.05">
<g font-size="13.4" text-anchor="middle" fill="#1c1c1c">
<text transform="translate(266.7 483.7) scale(1 0.78)">ク</text>
<text transform="translate(266.7 494.8) scale(1 0.78)">ロ</text>
<text transform="translate(266.6 500.4) rotate(90) scale(0.8 1)" y="5">ー</text>
<text transform="translate(266.7 514) scale(1 0.78)">ゼ</text>
<text transform="translate(268.3 522.3) scale(1 0.78)">ッ</text>
<text transform="translate(266.7 529.6) scale(1 0.78)">ト</text>
</g>
</g>
<g stroke="#1c1c1c" stroke-width="0.05">
<g font-size="11.3" text-anchor="middle" fill="#1c1c1c">
<text x="368.6" y="246.2">カ</text>
<text x="368.6" y="258">ウ</text>
<text x="368.6" y="270.2">ン</text>
<text x="368.6" y="281.7">タ</text>
<text transform="translate(368.6 289.4) rotate(90)" y="4.3">ー</text>
</g>
</g>
<g font-size="13.4" text-anchor="middle" fill="#1c1c1c">
<text x="479.9" y="116.7">バ</text>
<text x="479.9" y="131.3">ル</text>
<text x="479.9" y="146">コ</text>
<text x="479.9" y="160.2">ニ</text>
<text transform="translate(479.9 168.45) rotate(90) scale(0.9 1)" y="5.1">ー</text>
</g>
<g font-size="13.4" text-anchor="middle" fill="#1c1c1c">
<text x="479.9" y="454.2">バ</text>
<text x="479.9" y="468.6">ル</text>
<text x="479.9" y="482.9">コ</text>
<text x="479.9" y="497.2">ニ</text>
<text transform="translate(479.9 505.65) rotate(90) scale(0.9 1)" y="5.1">ー</text>
</g>
<g fill="#1c1c1c">
<text x="340" y="131.9" font-size="12.5">洋室</text>
<text x="373.1" y="131.8" font-size="13.6" textLength="19.6" lengthAdjust="spacingAndGlyphs">(3)</text>
</g>
<g fill="#1c1c1c">
<text x="336.8" y="145.8" font-size="13.6">(</text>
<text x="343" y="146" font-size="12.4">約</text>
<text x="355.6" y="145.9" font-size="13.4" textLength="18.8" lengthAdjust="spacingAndGlyphs">7.1</text>
<text x="376.3" y="146" font-size="12.4">畳</text>
<text x="389.3" y="145.8" font-size="13.6">)</text>
</g>
<g fill="#1c1c1c">
<text x="377.9" y="354.8" font-size="12.6" textLength="26.4" lengthAdjust="spacingAndGlyphs">洋室</text>
<text x="412.5" y="354.7" font-size="13.6" textLength="19" lengthAdjust="spacingAndGlyphs">(1)</text>
</g>
<g fill="#1c1c1c">
<text x="373.6" y="369.6" font-size="13.6">(</text>
<text x="379.8" y="369.8" font-size="12.4">約</text>
<text x="392.7" y="369.8" font-size="13.4" textLength="20" lengthAdjust="spacingAndGlyphs">8.0</text>
<text x="413.8" y="369.8" font-size="12.4">畳</text>
<text x="427.3" y="369.6" font-size="13.6">)</text>
</g>
<g fill="#1c1c1c">
<text x="348.3" y="468.1" font-size="12.5">洋室</text>
<text x="382.5" y="468" font-size="13.6" textLength="19.1" lengthAdjust="spacingAndGlyphs">(2)</text>
</g>
<g fill="#1c1c1c">
<text x="344.8" y="482.9" font-size="13.6">(</text>
<text x="350.6" y="483.1" font-size="12.4">約</text>
<text x="363.4" y="483" font-size="13.4" textLength="19.4" lengthAdjust="spacingAndGlyphs">7.5</text>
<text x="383.8" y="483.1" font-size="12.4">畳</text>
<text x="397.2" y="482.9" font-size="13.6">)</text>
</g>
<g transform="translate(0 242.9) skewX(-10) translate(0 -242.9)">
<text x="392.3" y="247.8" font-size="13.2" fill="#1c1c1c" textLength="68" lengthAdjust="spacing">ダイニング</text>
</g>
<g transform="translate(0 257.6) skewX(-10) translate(0 -257.6)">
<text x="402.5" y="262.7" font-size="13.2" text-anchor="middle" fill="#1c1c1c">・</text>
<text x="406.2" y="262.6" font-size="13.2" fill="#1c1c1c" textLength="55.4" lengthAdjust="spacing">キッチン</text>
</g>
<g fill="#1c1c1c">
<text x="398" y="277" font-size="13.6">(</text>
<text x="404" y="277.2" font-size="12.6">約</text>
<text x="416.5" y="277.2" font-size="13.4" textLength="20.5" lengthAdjust="spacingAndGlyphs">9.6</text>
<text x="438" y="277.2" font-size="12.6">畳</text>
<text x="451.3" y="277" font-size="13.6">)</text>
</g>
</g>
<g id="latin" stroke="#1c1c1c" stroke-width="0.25">
<g stroke-width="0.45">
<text x="200.8" y="378.3" font-size="14.6" text-anchor="middle" font-weight="normal" font-style="normal" fill="#1c1c1c" textLength="15" lengthAdjust="spacingAndGlyphs">EV</text>
<g stroke-width="0.45">
<text x="175.3" y="172.4" font-size="13.8" text-anchor="middle" font-weight="normal" font-style="normal" fill="#1c1c1c" textLength="9.6" lengthAdjust="spacingAndGlyphs">M</text>
<text x="175.3" y="187.7" font-size="13.8" text-anchor="middle" font-weight="normal" font-style="normal" fill="#1c1c1c" textLength="7.7" lengthAdjust="spacingAndGlyphs">B</text>
<text x="175.3" y="215.2" font-size="13.8" text-anchor="middle" font-weight="normal" font-style="normal" fill="#1c1c1c" textLength="7.7" lengthAdjust="spacingAndGlyphs">P</text>
<text x="175.3" y="228.9" font-size="13.8" text-anchor="middle" font-weight="normal" font-style="normal" fill="#1c1c1c" textLength="7.7" lengthAdjust="spacingAndGlyphs">S</text>
</g>
<circle cx="175.3" cy="197.5" r="1.5" fill="#1d1d1d" stroke="none" stroke-width="1"/>
<text x="244.9" y="498.3" font-size="13.8" text-anchor="middle" font-weight="normal" font-style="normal" fill="#1c1c1c" textLength="7.6" lengthAdjust="spacingAndGlyphs">P</text>
<text x="244.9" y="512.8" font-size="13.8" text-anchor="middle" font-weight="normal" font-style="normal" fill="#1c1c1c" textLength="7.6" lengthAdjust="spacingAndGlyphs">S</text>
</g>
<text x="455.3" y="176.8" font-size="8.8" text-anchor="middle" font-weight="normal" font-style="normal" fill="#1c1c1c" textLength="10.5" lengthAdjust="spacingAndGlyphs">AC</text>
<text x="446" y="221.4" font-size="7.6" text-anchor="middle" font-weight="normal" font-style="normal" fill="#1c1c1c" textLength="9.5" lengthAdjust="spacingAndGlyphs">AC</text>
<text x="431.5" y="144" font-size="7.4" text-anchor="middle" font-weight="normal" font-style="normal" fill="#1c1c1c">A</text>
<text x="431.4" y="152.3" font-size="8.6" text-anchor="middle" font-weight="normal" font-style="normal" fill="#1c1c1c">C</text>
<text x="458.2" y="437.8" font-size="10.2" text-anchor="middle" font-weight="bold" font-style="normal" fill="#1c1c1c" textLength="5.6" lengthAdjust="spacingAndGlyphs">B</text>
</g>
</svg>
</body></html>
